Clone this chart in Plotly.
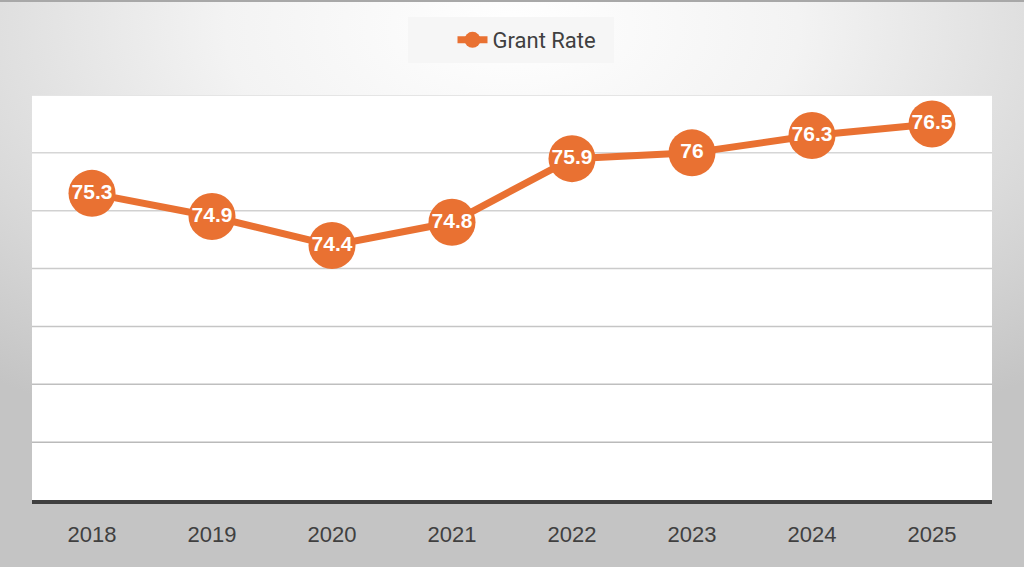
import base64
import plotly.graph_objects as go

years = ["2018", "2019", "2020", "2021", "2022", "2023", "2024", "2025"]
grant_rate = [75.3, 74.9, 74.4, 74.8, 75.9, 76.0, 76.3, 76.5]
labels = ["75.3", "74.9", "74.4", "74.8", "75.9", "76", "76.3", "76.5"]
series_name = "Grant Rate"
y_ticks = [70, 71, 72, 73, 74, 75, 76, 77]

ORANGE = "#E97132"
W, H = 1024, 567
L, R, T, B = 32, 32, 95, 67
PW, PH = W - L - R, H - T - B

svg = """<svg xmlns='http://www.w3.org/2000/svg' width='1024' height='567' viewBox='0 0 1024 567' preserveAspectRatio='none'>
<defs><radialGradient id='g' cx='0.5' cy='0.05' r='0.8'>
<stop offset='0' stop-color='#ffffff'/>
<stop offset='0.35' stop-color='#f3f3f3'/>
<stop offset='1' stop-color='#c4c4c4'/>
</radialGradient></defs>
<rect width='1024' height='567' fill='url(#g)'/>
<rect x='0' y='0' width='1024' height='2' fill='#a8a8a8'/>
</svg>"""
bg_src = "data:image/svg+xml;base64," + base64.b64encode(svg.encode()).decode()

def px_x(p):
    return (p - L) / PW

def px_y(p):
    return (H - B - p) / PH

fig = go.Figure()
fig.add_trace(go.Scatter(
    x=years, y=grant_rate, name=series_name, mode="lines+markers",
    line=dict(color=ORANGE, width=7),
    marker=dict(color=ORANGE, size=47),
    hoverinfo="skip",
))
fig.add_trace(go.Scatter(
    x=years, y=grant_rate, text=labels, mode="text", showlegend=False,
    textposition="middle center",
    textfont=dict(family="Liberation Sans, Arial", size=21, color="white", weight="bold"),
    hoverinfo="skip",
))

shapes = [
    dict(type="rect", xref="paper", yref="paper", x0=0, x1=1, y0=0, y1=1,
         fillcolor="white", line=dict(width=0), layer="below"),
    dict(type="rect", xref="paper", yref="paper", x0=px_x(408), x1=px_x(614),
         y0=px_y(63), y1=px_y(17), fillcolor="#f6f6f6", line=dict(width=0), layer="below"),
]
for t in y_ticks[1:]:
    frac = (t - y_ticks[0]) / (y_ticks[-1] - y_ticks[0])
    c = int(round(0xb4 + (0xdc - 0xb4) * frac))
    col = "#%02x%02x%02x" % (c, c, c)
    shapes.append(dict(type="line", xref="paper", yref="y", x0=0, x1=1, y0=t, y1=t,
                       line=dict(color=col, width=1.5), layer="below"))

fig.update_layout(
    width=W, height=H,
    margin=dict(l=L, r=R, t=T, b=B),
    paper_bgcolor="#d0d0d0",
    plot_bgcolor="rgba(0,0,0,0)",
    images=[dict(source=bg_src, xref="paper", yref="paper", x=-L / PW, y=1 + T / PH,
                 sizex=W / PW, sizey=H / PH, xanchor="left", yanchor="top",
                 sizing="stretch", layer="below")],
    shapes=shapes,
    showlegend=True,
    legend=dict(orientation="h", x=px_x(527), xanchor="center", y=px_y(40), yanchor="middle",
                bgcolor="rgba(0,0,0,0)", font=dict(family="Roboto", size=22, color="#404040"),
                borderwidth=0, itemsizing="trace"),
    xaxis=dict(type="category", range=[-0.5, 7.5], showgrid=False, zeroline=False,
               showline=True, linecolor="#404040", linewidth=4,
               ticks="outside", ticklen=12, tickcolor="rgba(0,0,0,0)",
               tickfont=dict(family="Liberation Sans, Arial", size=22, color="#404040"),
               fixedrange=True),
    yaxis=dict(range=[70, 77], tickvals=y_ticks, showgrid=False, zeroline=False,
               showticklabels=False, showline=False, fixedrange=True),
)

fig.write_html("out.html", config={"displayModeBar": False},
               post_script="document.body.style.margin='0';document.body.style.overflow='hidden';")
